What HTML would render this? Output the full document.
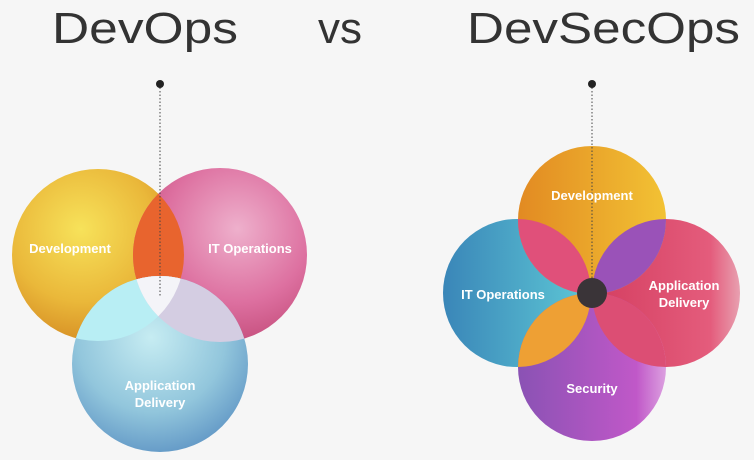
<!DOCTYPE html>
<html><head><meta charset="utf-8"><style>
html,body{margin:0;padding:0;background:#f6f6f6;}
svg{display:block;}
text{font-family:"Liberation Sans",sans-serif;}
.lb{font-weight:bold;font-size:13px;fill:#fff;}
</style></head><body>
<svg width="754" height="460" viewBox="0 0 754 460" xmlns="http://www.w3.org/2000/svg">
<defs>
<radialGradient id="gy" cx="0.4" cy="0.35" r="0.7"><stop offset="0" stop-color="#f7e25a"/><stop offset="0.6" stop-color="#eab83a"/><stop offset="1" stop-color="#d48a22"/></radialGradient>
<radialGradient id="gp" cx="0.6" cy="0.35" r="0.7"><stop offset="0" stop-color="#eeb0cc"/><stop offset="0.6" stop-color="#dd70a0"/><stop offset="1" stop-color="#c24a78"/></radialGradient>
<radialGradient id="gb" cx="0.45" cy="0.35" r="0.7"><stop offset="0" stop-color="#c6ecf2"/><stop offset="0.6" stop-color="#92c6dc"/><stop offset="1" stop-color="#5e94c4"/></radialGradient>
<linearGradient id="rd" x1="0" x2="1"><stop offset="0" stop-color="#e28a22"/><stop offset="1" stop-color="#f2c234"/></linearGradient>
<linearGradient id="ri" x1="0" x2="1"><stop offset="0" stop-color="#3a86b8"/><stop offset="1" stop-color="#5ec8d6"/></linearGradient>
<linearGradient id="ra" x1="0" x2="1"><stop offset="0" stop-color="#d43e60"/><stop offset="0.8" stop-color="#e45c7c"/><stop offset="1" stop-color="#e8a0b0"/></linearGradient>
<linearGradient id="rs" x1="0" x2="1"><stop offset="0" stop-color="#8a52b4"/><stop offset="0.8" stop-color="#c058c8"/><stop offset="1" stop-color="#dca0e0"/></linearGradient>
<clipPath id="cDev"><circle cx="98" cy="255" r="86"/></clipPath>
<clipPath id="cPink"><circle cx="220" cy="255" r="87"/></clipPath>
<clipPath id="cBlue"><circle cx="160" cy="364" r="88"/></clipPath>
<clipPath id="rD"><circle cx="592" cy="220" r="74"/></clipPath>
<clipPath id="rS"><circle cx="592" cy="367" r="74"/></clipPath>
</defs>
<text x="52" y="43" font-size="44" fill="#333" textLength="186" lengthAdjust="spacingAndGlyphs">DevOps</text>
<text x="318" y="43" font-size="44" fill="#333" textLength="44" lengthAdjust="spacingAndGlyphs">vs</text>
<text x="467" y="43" font-size="44" fill="#333" textLength="273" lengthAdjust="spacingAndGlyphs">DevSecOps</text>

<!-- left -->
<circle cx="98" cy="255" r="86" fill="url(#gy)"/>
<circle cx="220" cy="255" r="87" fill="url(#gp)"/>
<g clip-path="url(#cDev)"><circle cx="220" cy="255" r="87" fill="#e8642e"/></g>
<circle cx="160" cy="364" r="88" fill="url(#gb)"/>
<g clip-path="url(#cBlue)">
<circle cx="98" cy="255" r="86" fill="#b8eef4"/>
<circle cx="220" cy="255" r="87" fill="#d4cde2"/>
<g clip-path="url(#cDev)"><circle cx="220" cy="255" r="87" fill="#f4f4f8"/></g>
</g>
<line x1="160" y1="84" x2="160" y2="296" stroke="#444" stroke-width="1" stroke-dasharray="1.5 2"/>
<circle cx="160" cy="84" r="4" fill="#222"/>
<text class="lb" x="70" y="253" text-anchor="middle">Development</text>
<text class="lb" x="250" y="253" text-anchor="middle">IT Operations</text>
<text class="lb" x="160" y="390" text-anchor="middle">Application</text>
<text class="lb" x="160" y="407" text-anchor="middle">Delivery</text>

<!-- right -->
<circle cx="517" cy="293" r="74" fill="url(#ri)"/>
<circle cx="666" cy="293" r="74" fill="url(#ra)"/>
<circle cx="592" cy="367" r="74" fill="url(#rs)"/>
<circle cx="592" cy="220" r="74" fill="url(#rd)"/>
<g clip-path="url(#rD)">
<circle cx="517" cy="293" r="74" fill="#e0507a"/>
<circle cx="666" cy="293" r="74" fill="#9a52b8"/>
</g>
<g clip-path="url(#rS)">
<circle cx="517" cy="293" r="74" fill="#eea034"/>
<circle cx="666" cy="293" r="74" fill="#dc4e74"/>
</g>
<line x1="592" y1="84" x2="592" y2="290" stroke="#444" stroke-width="1" stroke-dasharray="1.5 2"/>
<circle cx="592" cy="84" r="4" fill="#222"/>
<circle cx="592" cy="293" r="15" fill="#3a3438"/>
<text class="lb" x="592" y="200" text-anchor="middle">Development</text>
<text class="lb" x="503" y="299" text-anchor="middle">IT Operations</text>
<text class="lb" x="684" y="290" text-anchor="middle">Application</text>
<text class="lb" x="684" y="307" text-anchor="middle">Delivery</text>
<text class="lb" x="592" y="393" text-anchor="middle">Security</text>
</svg>
</body></html>
